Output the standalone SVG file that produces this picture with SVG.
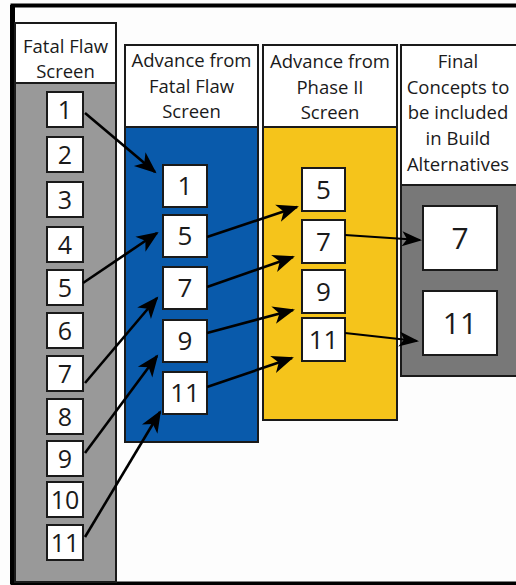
<svg xmlns="http://www.w3.org/2000/svg" width="516" height="585" viewBox="0 0 516 585">
<defs>
<marker id="ah" markerUnits="userSpaceOnUse" markerWidth="30" markerHeight="24" viewBox="-24 -12 28 24" refX="0" refY="0" orient="auto" overflow="visible">
<path d="M2,0 L-20,-9 L-14,0 L-20,9 Z" fill="#000"/>
</marker>
<marker id="ah2" markerUnits="userSpaceOnUse" markerWidth="30" markerHeight="24" viewBox="-24 -12 28 24" refX="0" refY="0" orient="auto" overflow="visible">
<path d="M2,0 L-18,-7.5 L-13,0 L-18,7.5 Z" fill="#000"/>
</marker>
<style>
.hdr{fill:#fff;stroke:#1a1a1a;stroke-width:2}
.col{stroke:#1a1a1a;stroke-width:2}
.box{fill:#fff;stroke:#1a1a1a;stroke-width:2}
.ht{font-family:"Open Sans","Noto Sans",sans-serif;font-size:18.5px;fill:#1a1a1a;text-anchor:middle}
.n1{font-family:"Open Sans","Noto Sans",sans-serif;font-size:25px;fill:#1a1a1a;text-anchor:middle}
.n2{font-family:"Open Sans","Noto Sans",sans-serif;font-size:26px;fill:#1a1a1a;text-anchor:middle}
.n4{font-family:"Open Sans","Noto Sans",sans-serif;font-size:30px;fill:#1a1a1a;text-anchor:middle}
.ar{stroke:#000;stroke-width:2.6;fill:none;marker-end:url(#ah)}
.ar2{stroke:#000;stroke-width:2;fill:none;marker-end:url(#ah2)}
</style>
</defs>
<rect width="516" height="585" fill="#fdfdfd"/>
<g id="frame">
<rect x="12.5" y="5.5" width="520" height="578" fill="none" stroke="#000" stroke-width="4"/>
<line x1="12.5" y1="5" x2="12.5" y2="584" stroke="#000" stroke-width="5"/>
</g>
<g id="col1">
<rect class="col" x="15" y="83" width="101" height="499" fill="#999999"/>
<rect class="hdr" x="15" y="23" width="101" height="60"/>
<text class="ht" x="65.5" y="53">Fatal Flaw</text>
<text class="ht" x="65.5" y="78">Screen</text>
</g>
<g id="c1n1"><rect class="box" x="47" y="92" width="36" height="35"/><text class="n1" x="65" y="118.5">1</text></g>
<g id="c1n2"><rect class="box" x="47" y="137" width="36" height="35"/><text class="n1" x="65" y="163.5">2</text></g>
<g id="c1n3"><rect class="box" x="47" y="182" width="36" height="35"/><text class="n1" x="65" y="208.5">3</text></g>
<g id="c1n4"><rect class="box" x="47" y="227" width="36" height="35"/><text class="n1" x="65" y="253.5">4</text></g>
<g id="c1n5"><rect class="box" x="47" y="270" width="36" height="35"/><text class="n1" x="65" y="296.5">5</text></g>
<g id="c1n6"><rect class="box" x="47" y="313" width="36" height="35"/><text class="n1" x="65" y="339.5">6</text></g>
<g id="c1n7"><rect class="box" x="47" y="356" width="36" height="35"/><text class="n1" x="65" y="382.5">7</text></g>
<g id="c1n8"><rect class="box" x="47" y="399" width="36" height="35"/><text class="n1" x="65" y="425.5">8</text></g>
<g id="c1n9"><rect class="box" x="47" y="441" width="36" height="35"/><text class="n1" x="65" y="467.5">9</text></g>
<g id="c1n10"><rect class="box" x="47" y="482" width="36" height="35"/><text class="n1" x="65" y="508.5">10</text></g>
<g id="c1n11"><rect class="box" x="47" y="525" width="36" height="35"/><text class="n1" x="65" y="551.5">11</text></g>
<g id="col2">
<rect class="col" x="125" y="127" width="133" height="315" fill="#095aab"/>
<rect class="hdr" x="125" y="45" width="133" height="82"/>
<text class="ht" x="191.5" y="67">Advance from</text>
<text class="ht" x="191.5" y="93">Fatal Flaw</text>
<text class="ht" x="191.5" y="118">Screen</text>
</g>
<g id="c2n1"><rect class="box" x="163" y="165" width="44" height="42"/><text class="n2" x="185" y="195">1</text></g>
<g id="c2n5"><rect class="box" x="163" y="215" width="44" height="42"/><text class="n2" x="185" y="245">5</text></g>
<g id="c2n7"><rect class="box" x="163" y="267" width="44" height="42"/><text class="n2" x="185" y="297">7</text></g>
<g id="c2n9"><rect class="box" x="163" y="320" width="44" height="42"/><text class="n2" x="185" y="350">9</text></g>
<g id="c2n11"><rect class="box" x="163" y="372" width="44" height="42"/><text class="n2" x="185" y="402">11</text></g>
<g id="col3">
<rect class="col" x="263" y="127" width="134" height="293" fill="#f5c41b"/>
<rect class="hdr" x="263" y="45" width="134" height="82"/>
<text class="ht" x="330" y="68">Advance from</text>
<text class="ht" x="330" y="94">Phase II</text>
<text class="ht" x="330" y="119">Screen</text>
</g>
<g id="c3n5"><rect class="box" x="302" y="168" width="43" height="43"/><text class="n2" x="323.5" y="198.5">5</text></g>
<g id="c3n7"><rect class="box" x="302" y="220" width="43" height="43"/><text class="n2" x="323.5" y="250.5">7</text></g>
<g id="c3n9"><rect class="box" x="302" y="270" width="43" height="43"/><text class="n2" x="323.5" y="300.5">9</text></g>
<g id="c3n11"><rect class="box" x="302" y="318" width="43" height="43"/><text class="n2" x="323.5" y="348.5">11</text></g>
<g id="col4">
<rect class="col" x="401" y="185" width="130" height="191" fill="#787878"/>
<rect class="hdr" x="401" y="45" width="130" height="140"/>
<text class="ht" x="458" y="68">Final</text>
<text class="ht" x="458" y="94">Concepts to</text>
<text class="ht" x="458" y="119">be included</text>
<text class="ht" x="458" y="145">in Build</text>
<text class="ht" x="458" y="171">Alternatives</text>
</g>
<g id="c4n7"><rect class="box" x="423" y="206" width="74" height="64"/><text class="n4" x="460" y="248.5">7</text></g>
<g id="c4n11"><rect class="box" x="423" y="291" width="74" height="64"/><text class="n4" x="460" y="333.5">11</text></g>
<g id="connectors">
<line class="ar" x1="85" y1="113" x2="155" y2="172"/>
<line class="ar" x1="83" y1="283" x2="157" y2="233"/>
<line class="ar" x1="85" y1="383" x2="157" y2="298"/>
<line class="ar" x1="85" y1="453" x2="157" y2="356"/>
<line class="ar" x1="85" y1="537" x2="160" y2="412"/>
<line class="ar" x1="207" y1="237" x2="297" y2="207"/>
<line class="ar" x1="207" y1="287" x2="293" y2="257"/>
<line class="ar" x1="207" y1="333" x2="293" y2="310"/>
<line class="ar" x1="207" y1="387" x2="292" y2="358"/>
<line class="ar2" x1="345" y1="235" x2="420" y2="240"/>
<line class="ar2" x1="345" y1="333" x2="417" y2="341"/>
</g>
</svg>
